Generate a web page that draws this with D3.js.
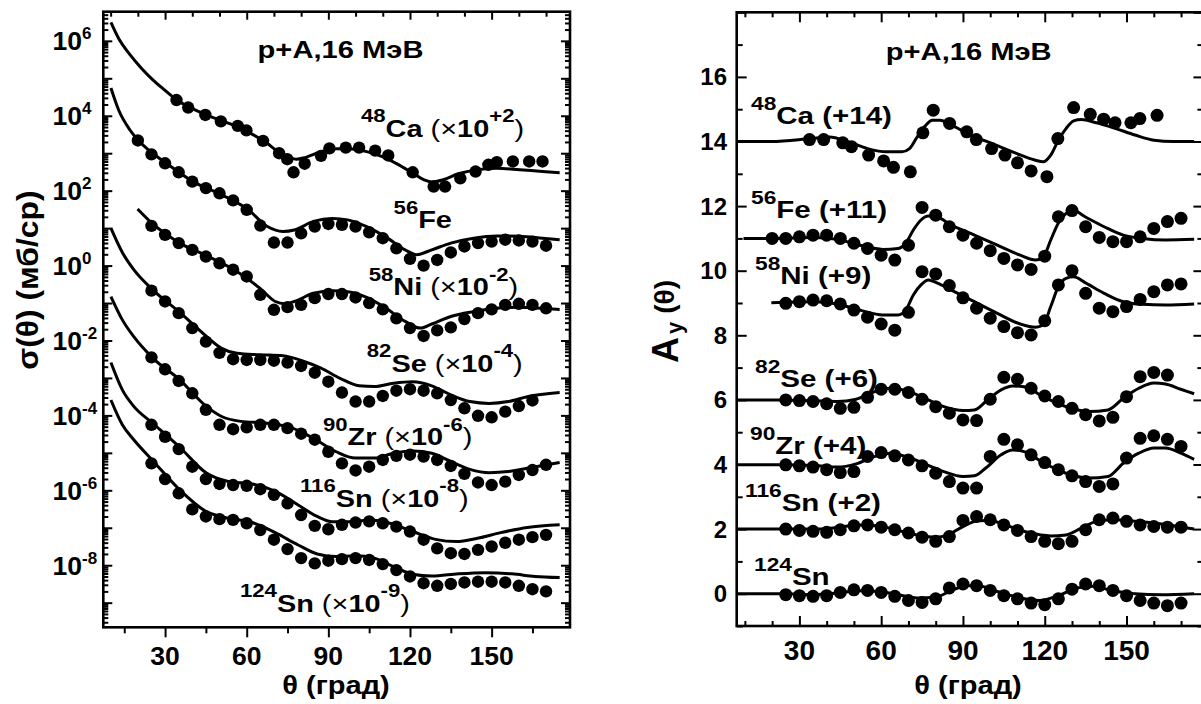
<!DOCTYPE html>
<html lang="ru">
<head>
<meta charset="utf-8">
<title>p+A, 16 МэВ</title>
<script src="https://cdn.jsdelivr.net/npm/d3@7/dist/d3.min.js"></script>
<style>
  html, body { margin: 0; padding: 0; background: #fff; }
  svg { display: block; }
  text { font-family: "Liberation Sans", Arial, Helvetica, sans-serif; font-weight: bold; fill: #000; white-space: pre; }
</style>
</head>
<body>
<svg id="chart" width="1201" height="704"></svg>
<script>
// ---------- shared angle grids, degrees ----------
const angles20to170 = [20,25,30,35,40,45,50,55,60,65,70,75,80,85,90,95,100,105,110,115,120,125,130,135,140,145,150,155,160,165,170];
const angles25to170 = [25,30,35,40,45,50,55,60,65,70,75,80,85,90,95,100,105,110,115,120,125,130,135,140,145,150,155,160,165,170];
const angles25to165 = [25,30,35,40,45,50,55,60,65,70,75,80,85,90,95,100,105,110,115,120,125,130,135,140,145,150,155,160,165];

// ---------- target nuclei ----------
const massNumbers = ["48", "56", "58", "82", "90", "116", "124"];
const elements = ["Ca", "Fe", "Ni", "Se", "Zr", "Sn", "Sn"];
const sigmaScalePowers = [2, 0, -2, -4, -6, -8, -9];   // σ curves multiplied by 10^p
const ayOffsets = [14, 11, 9, 6, 4, 2, 0];             // A_y curves shifted by +n

// ---------- axis ticks ----------
const angleTicks = [30, 60, 90, 120, 150];
const sigmaTickPowers = [6, 4, 2, 0, -2, -4, -6, -8];
const ayTicks = [0, 2, 4, 6, 8, 10, 12, 14, 16];

// ---------- differential cross sections σ(θ), mb/sr ----------
const ca48SigmaAngles = [34.2,38.5,44.8,50.5,56.7,59.9,66.0,71.9,74.9,77.2,81.3,87.3,90.4,96.4,101.3,107.2,112.0,121.0,128.7,132.9,138.5,144.1,148.8,151.9,157.8,163.8,168.7];
const ca48Sigma = [263,166,105,70.8,53.7,40.7,21.4,10.0,6.92,3.09,5.25,8.51,13.5,14.1,14.1,11.7,8.71,3.09,1.29,1.29,2.14,3.24,4.90,5.75,6.03,6.03,6.03];
const ca48SigmaCalcAngles = [10.1,12.9,17.1,21.3,25.5,29.8,34.0,45.2,56.4,66.2,73.3,78.2,81.7,87.3,92.9,98.5,104.1,109.8,115.4,121.0,125.2,128.0,132.2,137.8,144.8,151.9,160.3,168.7,175.0];
const ca48SigmaCalc = [30900,11700,4270,1860,912,490,275,105,51.3,21.4,9.12,6.92,7.76,11.0,13.2,12.9,11.0,8.13,5.13,2.95,1.95,1.70,1.95,2.82,3.63,3.98,3.63,3.24,3.02];

const fe56Sigma = [2190,933,537,309,174,117,85.1,55.0,30.9,11.7,4.12,4.12,7.24,11.0,12.9,12.3,11.0,7.76,5.37,2.88,1.51,1.00,1.41,2.24,3.24,3.98,4.37,4.90,4.68,4.37,3.39];
const fe56SigmaCalcAngles = [10.1,12.9,17.1,20.6,30.5,40.3,50.8,60.6,67.6,73.3,77.5,84.5,91.5,97.1,104.1,111.2,118.2,122.4,128.0,135.0,143.4,151.9,160.3,168.7,175.0];
const fe56SigmaCalc = [55000,14500,4170,2040,537,174,77.6,30.9,11.0,8.13,8.91,15.1,18.2,16.6,11.0,5.75,2.63,1.95,2.63,3.98,5.37,6.17,6.03,5.37,4.90];

const ni58Sigma = [1150,661,398,263,174,115,77.6,51.3,16.6,6.61,7.76,8.91,13.5,17.4,17.4,14.1,10.0,6.76,3.89,2.14,1.32,1.86,2.24,3.72,5.37,6.76,8.91,9.55,8.91,7.24];
const ni58SigmaCalcAngles = [19.9,25.5,35.4,45.9,56.4,64.8,70.5,74.0,77.5,84.5,91.5,97.1,104.1,111.2,118.2,123.8,128.0,135.0,143.4,151.9,160.3,168.7,175.0];
const ni58SigmaCalc = [3240,1290,398,174,69.2,25.1,11.0,9.55,11.0,18.2,21.4,20.0,14.1,7.24,3.24,2.14,2.75,4.37,5.89,7.24,7.76,7.24,6.76];

const se82Sigma = [2140,1100,537,214,93.3,46.8,31.6,30.2,30.2,28.8,25.7,20.9,13.8,7.94,4.07,2.34,2.34,3.31,4.57,5.01,4.57,3.89,2.57,1.55,0.977,0.891,1.26,1.78,2.51];
const se82SigmaCalcAngles = [10.1,14.3,18.5,25.5,35.4,45.2,50.8,56.4,64.8,73.3,80.3,87.3,94.3,101.3,106.9,114.0,121.0,128.0,135.0,142.0,149.1,156.1,163.1,175.0];
const se82SigmaCalc = [100000,22400,7760,2240,562,129,61.7,45.7,41.7,38.9,28.8,18.2,9.77,6.17,5.89,7.24,7.94,6.17,3.55,2.34,2.09,2.34,3.16,4.07];

const zr90Sigma = [3550,1700,832,389,141,56.2,42.7,47.9,56.2,56.2,45.7,32.4,22.4,10.7,5.25,3.39,4.27,6.46,8.32,8.91,7.94,6.46,4.47,2.75,1.62,1.38,1.70,2.57,3.47,4.79];
const zr90SigmaCalcAngles = [10.1,14.3,18.5,25.5,35.4,45.2,50.8,57.8,67.6,76.1,84.5,92.9,99.9,106.9,114.0,121.0,128.0,135.0,142.0,149.1,156.1,163.1,175.0];
const zr90SigmaCalc = [148000,35500,12600,3390,891,174,93.3,69.2,61.7,47.9,24.5,10.7,7.24,7.24,9.77,11.2,9.77,5.89,3.63,2.95,3.16,3.89,5.50];

const sn116Sigma = [5620,2690,1260,427,200,148,138,132,107,75.9,44.7,21.9,11.2,9.12,12.0,13.8,14.8,13.2,10.7,7.94,4.79,2.82,2.09,2.00,2.57,3.16,3.98,4.79,5.62,6.46];
const sn116SigmaCalcAngles = [10.1,14.3,18.5,25.5,35.4,45.2,53.6,62.0,70.5,78.9,85.9,91.5,98.5,105.5,112.6,121.0,129.4,137.1,144.8,153.3,163.1,175.0];
const sn116SigmaCalc = [257000,47900,17400,6170,1410,288,170,148,93.3,40.7,20.0,14.5,14.5,16.2,13.2,7.94,4.90,4.27,5.25,7.41,10.2,12.0];

const sn124Sigma = [5250,2000,832,309,200,170,162,132,87.1,47.9,26.9,15.5,11.2,13.2,14.5,15.5,13.8,10.7,7.41,5.01,3.31,2.82,3.16,3.47,3.63,3.63,3.47,2.82,2.29,2.00];
const sn124SigmaCalcAngles = [10.1,14.3,18.5,25.5,35.4,45.2,53.6,62.0,70.5,78.9,85.9,92.9,99.9,106.9,114.0,121.0,128.0,137.8,147.6,157.5,165.9,175.0];
const sn124SigmaCalc = [257000,56200,22400,6170,1020,269,178,138,74.1,34.7,20.0,17.0,17.8,15.5,9.12,5.75,5.13,5.89,6.31,5.89,5.01,4.68];

// ---------- analyzing powers A_y(θ) ----------
const ca48AyAngles = [33.7,38.9,45.9,49.1,55.4,60.9,64.5,70.7,75.3,79.1,85.1,91.4,94.9,100.5,105.4,110.0,115.0,120.8,124.8,130.6,136.7,141.6,145.8,151.6,154.9,161.2];
const ca48Ay = [0.06,0.06,-0.04,-0.16,-0.42,-0.60,-0.80,-0.94,0.27,0.97,0.56,0.30,0.06,-0.22,-0.42,-0.66,-0.91,-1.09,0.09,1.05,0.84,0.69,0.58,0.58,0.71,0.81];
const ca48AyCalcAngles = [7.4,19.9,34.0,41.0,48.0,55.0,62.0,67.6,70.4,73.2,76.0,78.8,81.6,85.8,92.8,101.2,109.6,116.6,119.4,122.2,125.0,127.8,130.6,133.4,139.0,146.1,153.1,160.1,167.1,174.8];
const ca48AyCalc = [0,0,0.09,0.14,-0.01,-0.22,-0.32,-0.32,-0.22,0.14,0.47,0.66,0.66,0.51,0.20,-0.08,-0.37,-0.58,-0.63,-0.42,0.04,0.40,0.64,0.68,0.58,0.40,0.20,0.04,0,0];

const fe56Ay = [0.0,0.0,0.05,0.10,0.10,0.0,-0.15,-0.31,-0.52,-0.67,-0.21,0.96,0.72,0.36,0.10,-0.15,-0.38,-0.62,-0.82,-0.96,-0.55,0.67,0.86,0.36,0.03,-0.10,-0.10,0.05,0.31,0.52,0.62];
const fe56AyCalcAngles = [9.5,20.0,35.4,43.8,52.2,60.6,66.2,69.0,71.8,74.6,77.4,80.2,85.8,94.2,102.6,111.0,116.6,119.4,122.2,125.0,127.8,130.6,134.8,141.8,148.8,155.8,164.3,174.8];
const fe56AyCalc = [0,0,0.03,-0.03,-0.21,-0.34,-0.31,-0.15,0.26,0.57,0.69,0.67,0.41,0.10,-0.21,-0.52,-0.67,-0.59,-0.05,0.48,0.77,0.86,0.67,0.36,0.10,0.0,-0.05,-0.03];

const ni58Ay = [-0.01,0.04,0.09,0.07,-0.03,-0.22,-0.44,-0.65,-0.84,-0.29,0.97,0.90,0.54,0.16,-0.16,-0.47,-0.73,-0.92,-0.99,-0.55,0.56,1.0,0.30,-0.16,-0.27,-0.11,0.11,0.35,0.56,0.59];
const ni58AyCalcAngles = [19.7,35.4,43.8,52.2,60.6,66.2,69.0,71.8,74.6,77.4,80.2,85.8,94.2,102.6,111.0,116.6,119.4,122.2,125.0,127.8,130.6,134.8,141.8,148.8,155.8,164.3,174.8];
const ni58AyCalc = [0.01,0.04,-0.03,-0.22,-0.37,-0.37,-0.22,0.25,0.56,0.71,0.63,0.40,0.04,-0.32,-0.65,-0.75,-0.68,-0.11,0.51,0.76,0.81,0.63,0.30,0.04,-0.04,-0.06,-0.03];

const se82Ay = [0.0,-0.02,-0.05,-0.12,-0.26,-0.23,0.08,0.33,0.33,0.23,0.02,-0.21,-0.41,-0.62,-0.64,0.02,0.70,0.64,0.36,0.12,-0.05,-0.26,-0.46,-0.65,-0.54,0.10,0.72,0.85,0.77];
const se82AyCalcAngles = [7.4,24.2,35.4,43.8,50.8,57.8,63.4,69.0,76.0,83.0,90.0,94.2,98.4,104.0,108.2,112.4,119.4,127.8,136.2,143.2,148.8,154.5,160.1,164.3,169.9,174.8];
const se82AyCalc = [0,0,-0.03,-0.05,0.02,0.26,0.36,0.29,0.05,-0.21,-0.33,-0.31,-0.05,0.31,0.43,0.41,0.10,-0.21,-0.36,-0.31,0.05,0.36,0.52,0.49,0.33,0.19];

const zr90Ay = [-0.01,-0.04,-0.08,-0.16,-0.25,-0.22,0.25,0.37,0.27,0.14,-0.04,-0.27,-0.53,-0.73,-0.73,0.25,0.78,0.61,0.30,0.06,-0.16,-0.35,-0.53,-0.68,-0.60,0.20,0.81,0.89,0.78,0.56];
const zr90AyCalcAngles = [7.4,24.2,35.4,43.8,50.8,57.8,63.4,69.0,76.0,83.0,90.0,94.2,98.4,104.0,108.2,112.4,119.4,127.8,136.2,143.2,148.8,154.5,160.1,164.3,169.9,174.8];
const zr90AyCalc = [-0.01,-0.01,-0.03,-0.08,0.02,0.25,0.35,0.25,0.02,-0.22,-0.37,-0.35,-0.11,0.30,0.45,0.40,0.06,-0.27,-0.42,-0.37,0.04,0.35,0.51,0.51,0.35,0.16];

const sn116Ay = [0.0,-0.04,-0.07,-0.10,-0.02,0.10,0.13,0.06,-0.02,-0.12,-0.25,-0.38,-0.23,0.27,0.39,0.29,0.13,-0.04,-0.23,-0.38,-0.45,-0.38,-0.02,0.29,0.34,0.24,0.13,0.08,0.06,0.06];
const sn116AyCalcAngles = [7.4,24.2,35.4,43.8,52.2,59.2,66.2,73.2,80.2,84.4,90.0,95.6,99.8,105.4,113.8,122.2,127.8,133.4,139.0,144.6,153.1,162.8,174.8];
const sn116AyCalc = [0,0,0,0.05,0.13,0.10,-0.04,-0.18,-0.25,-0.18,0.08,0.26,0.27,0.13,-0.10,-0.21,-0.18,0.03,0.24,0.29,0.24,0.16,0.0];

const sn124Ay = [-0.03,-0.06,-0.08,-0.06,0.04,0.12,0.10,0.04,-0.08,-0.21,-0.27,-0.16,0.18,0.30,0.25,0.10,-0.06,-0.16,-0.29,-0.34,-0.16,0.14,0.30,0.25,0.10,-0.06,-0.21,-0.29,-0.37,-0.29];
const sn124AyCalcAngles = [7.4,24.2,35.4,43.8,52.2,59.2,66.2,73.2,80.2,85.8,91.4,95.6,102.6,111.0,118.0,125.0,132.0,137.6,144.6,153.1,162.8,174.8];
const sn124AyCalc = [0,0,-0.03,0.02,0.09,0.07,-0.03,-0.13,-0.10,0.10,0.25,0.25,0.07,-0.13,-0.21,-0.06,0.18,0.23,0.10,0.0,-0.03,0.0];

// ---------- series tables (one row per nucleus, same order as massNumbers) ----------
const sigmaSeries = [
  {ang: ca48SigmaAngles, val: ca48Sigma, cAng: ca48SigmaCalcAngles, cVal: ca48SigmaCalc},
  {ang: angles20to170,   val: fe56Sigma, cAng: fe56SigmaCalcAngles, cVal: fe56SigmaCalc},
  {ang: angles25to170,   val: ni58Sigma, cAng: ni58SigmaCalcAngles, cVal: ni58SigmaCalc},
  {ang: angles25to165,   val: se82Sigma, cAng: se82SigmaCalcAngles, cVal: se82SigmaCalc},
  {ang: angles25to170,   val: zr90Sigma, cAng: zr90SigmaCalcAngles, cVal: zr90SigmaCalc},
  {ang: angles25to170,   val: sn116Sigma, cAng: sn116SigmaCalcAngles, cVal: sn116SigmaCalc},
  {ang: angles25to170,   val: sn124Sigma, cAng: sn124SigmaCalcAngles, cVal: sn124SigmaCalc}
];
const aySeries = [
  {ang: ca48AyAngles,  val: ca48Ay,  cAng: ca48AyCalcAngles,  cVal: ca48AyCalc},
  {ang: angles20to170, val: fe56Ay,  cAng: fe56AyCalcAngles,  cVal: fe56AyCalc},
  {ang: angles25to170, val: ni58Ay,  cAng: ni58AyCalcAngles,  cVal: ni58AyCalc},
  {ang: angles25to165, val: se82Ay,  cAng: se82AyCalcAngles,  cVal: se82AyCalc},
  {ang: angles25to170, val: zr90Ay,  cAng: zr90AyCalcAngles,  cVal: zr90AyCalc},
  {ang: angles25to170, val: sn116Ay, cAng: sn116AyCalcAngles, cVal: sn116AyCalc},
  {ang: angles25to170, val: sn124Ay, cAng: sn124AyCalcAngles, cVal: sn124AyCalc}
];

// ---------- drawing ----------
const svg = d3.select("#chart");

// Rich label: parts = [{t, sup, sub, light, dx}], drawn into a horizontally stretched group
function richText(parent, x, y, parts, o) {
  const g = parent.append("g").attr("transform", `translate(${x},${y}) scale(${o.sx || 1},1)`);
  const t = g.append("text").attr("x", 0).attr("y", 0).attr("text-anchor", o.anchor || "start");
  let cur = 0;
  parts.forEach(p => {
    const target = p.sup ? -o.rise : (p.sub ? o.drop : 0);
    t.append("tspan")
      .attr("dy", target - cur)
      .attr("dx", p.dx || 0)
      .attr("font-size", p.sup || p.sub ? o.small : o.size)
      .attr("font-weight", p.light ? "normal" : "bold")
      .text(p.t);
    cur = target;
  });
  return t;
}

function styleTicks(g) {
  g.select(".domain").remove();
  g.selectAll(".tick line").attr("stroke", "#000").attr("stroke-width", 2);
  g.selectAll(".tick text").remove();
}

function frame(box) {
  svg.append("rect")
    .attr("x", box.x0).attr("y", box.y0)
    .attr("width", box.x1 - box.x0).attr("height", box.y1 - box.y0)
    .attr("fill", "none").attr("stroke", "#000").attr("stroke-width", 2.6);
}

// ===== Left panel: σ(θ) on a log scale =====
const L = {x0: 103.3, x1: 570, y0: 11.7, y1: 627.3};
const xL = d3.scaleLinear().domain([7.3, 178.8]).range([L.x0, L.x1]);
const yL = d3.scaleLog().domain([2.2e-10, 6.0e6]).range([L.y1, L.y0]);

const decadeTicks = d3.range(-9, 7).map(k => Math.pow(10, k));
const minorLogTicks = [];
d3.range(-10, 7).forEach(k => d3.range(2, 10).forEach(m => {
  const v = m * Math.pow(10, k);
  if (v > yL.domain()[0] && v < yL.domain()[1]) minorLogTicks.push(v);
}));
const tenDegTicks = d3.range(10, 180, 10);
const halfStepTicks = [15, 45, 75, 105, 135, 165];

// left / right log ticks, pointing inward
[[L.x0, d3.axisRight], [L.x1, d3.axisLeft]].forEach(([x, ax]) => {
  svg.append("g").attr("transform", `translate(${x},0)`)
    .call(ax(yL).tickValues(decadeTicks).tickSize(9)).call(styleTicks);
  svg.append("g").attr("transform", `translate(${x},0)`)
    .call(ax(yL).tickValues(minorLogTicks).tickSize(5)).call(styleTicks);
});
// bottom ticks outward
svg.append("g").attr("transform", `translate(0,${L.y1})`)
  .call(d3.axisBottom(xL).tickValues(angleTicks).tickSize(10)).call(styleTicks);
svg.append("g").attr("transform", `translate(0,${L.y1})`)
  .call(d3.axisBottom(xL).tickValues(halfStepTicks).tickSize(6)).call(styleTicks);
// top ticks inward
svg.append("g").attr("transform", `translate(0,${L.y0})`)
  .call(d3.axisBottom(xL).tickValues(tenDegTicks.filter(v => v % 30 !== 0)).tickSize(5)).call(styleTicks);
svg.append("g").attr("transform", `translate(0,${L.y0})`)
  .call(d3.axisBottom(xL).tickValues(angleTicks).tickSize(8)).call(styleTicks);

frame(L);

// tick labels
angleTicks.forEach(v => {
  svg.append("text").attr("x", xL(v)).attr("y", L.y1 + 37.5)
    .attr("text-anchor", "middle").attr("font-size", 26.5).text(v);
});
sigmaTickPowers.forEach(p => {
  richText(svg, 52.5, yL(Math.pow(10, p)) + 9.5,
    [{t: "10"}, {t: String(p), sup: true}],
    {size: 26.5, small: 17, rise: 11});
});

// curves and points
const lineL = d3.line().x(d => xL(d[0])).y(d => yL(d[1])).curve(d3.curveMonotoneX);
sigmaSeries.forEach((s, i) => {
  const f = Math.pow(10, sigmaScalePowers[i]);
  const calc = s.cAng.map((a, j) => [a, s.cVal[j] * f]);
  svg.append("path").attr("d", lineL(calc))
    .attr("fill", "none").attr("stroke", "#000").attr("stroke-width", 3)
    .attr("stroke-linejoin", "round");
  svg.append("g").selectAll("circle")
    .data(s.ang.map((a, j) => [a, s.val[j] * f]))
    .join("circle")
    .attr("cx", d => xL(d[0])).attr("cy", d => yL(d[1])).attr("r", 6.2)
    .attr("fill", "#000");
});

// series labels
const sigmaLabelPos = [[361, 136.7], [393.6, 228], [368.7, 295], [366.8, 371.7], [322.9, 445], [300, 506.7], [240, 611.7]];
sigmaLabelPos.forEach(([x, y], i) => {
  const p = sigmaScalePowers[i];
  const parts = [{t: massNumbers[i], sup: true}, {t: elements[i]}];
  if (p !== 0) {
    parts.push({t: " (", light: true}, {t: "×", light: true}, {t: "10"},
               {t: (p > 0 ? "+" : "") + p, sup: true}, {t: ")", light: true});
  }
  richText(svg, x, y, parts, {size: 23.5, small: 18, rise: 14.5, sx: 1.23});
});

// panel title and axis titles
richText(svg, 340.5, 58.3, [{t: "p+A,16 МэВ"}], {size: 23.5, sx: 1.24, anchor: "middle"});
richText(svg, 336, 694, [{t: "θ (град)"}], {size: 25.5, sx: 1.14, anchor: "middle"});
svg.append("g").attr("transform", "translate(37.5,280) rotate(-90) scale(1.1,1)")
  .append("text").attr("text-anchor", "middle").attr("font-size", 29).text("σ(θ) (мб/ср)");

// ===== Right panel: A_y(θ) =====
const R = {x0: 736.7, x1: 1203.4, y0: 12.3, y1: 626};
const xR = d3.scaleLinear().domain([7.0, 178.2]).range([R.x0, R.x1]);
const yR = d3.scaleLinear().domain([-1, 18]).range([R.y1, R.y0]);

const unitTicks = d3.range(-1, 19);
[[R.x0, d3.axisRight], [R.x1, d3.axisLeft]].forEach(([x, ax]) => {
  svg.append("g").attr("transform", `translate(${x},0)`)
    .call(ax(yR).tickValues(unitTicks.filter(v => v % 2 !== 0)).tickSize(6)).call(styleTicks);
  svg.append("g").attr("transform", `translate(${x},0)`)
    .call(ax(yR).tickValues(unitTicks.filter(v => v % 2 === 0)).tickSize(10)).call(styleTicks);
});
[[R.y1, d3.axisTop], [R.y0, d3.axisBottom]].forEach(([y, ax]) => {
  svg.append("g").attr("transform", `translate(0,${y})`)
    .call(ax(xR).tickValues(tenDegTicks.filter(v => v % 30 !== 0)).tickSize(5)).call(styleTicks);
  svg.append("g").attr("transform", `translate(0,${y})`)
    .call(ax(xR).tickValues(angleTicks).tickSize(10)).call(styleTicks);
});
frame(R);

angleTicks.forEach(v => {
  svg.append("text").attr("x", xR(v)).attr("y", R.y1 + 33.5)
    .attr("text-anchor", "middle").attr("font-size", 28).text(v);
});
ayTicks.forEach(v => {
  svg.append("text").attr("x", 727).attr("y", yR(v) + 8.5)
    .attr("text-anchor", "end").attr("font-size", 24).text(v);
});

const lineR = d3.line().x(d => xR(d[0])).y(d => yR(d[1])).curve(d3.curveMonotoneX);
aySeries.forEach((s, i) => {
  const off = ayOffsets[i];
  const calc = s.cAng.map((a, j) => [a, s.cVal[j] + off]);
  svg.append("path").attr("d", lineR(calc))
    .attr("fill", "none").attr("stroke", "#000").attr("stroke-width", 3)
    .attr("stroke-linejoin", "round");
  svg.append("g").selectAll("circle")
    .data(s.ang.map((a, j) => [a, s.val[j] + off]))
    .join("circle")
    .attr("cx", d => xR(d[0])).attr("cy", d => yR(d[1])).attr("r", 6.5)
    .attr("fill", "#000");
});

const ayLabelPos = [[751, 123.5], [751, 218], [755, 284], [755, 386.7], [750, 454], [745, 510.5], [754, 585]];
ayLabelPos.forEach(([x, y], i) => {
  const off = ayOffsets[i];
  const parts = [{t: massNumbers[i], sup: true}, {t: elements[i] + (off ? ` (+${off})` : "")}];
  richText(svg, x, y, parts, {size: 24, small: 18.5, rise: 14, sx: 1.23});
});

richText(svg, 968.7, 60, [{t: "p+A,16 МэВ"}], {size: 23.5, sx: 1.24, anchor: "middle"});
richText(svg, 968, 694, [{t: "θ (град)"}], {size: 25.5, sx: 1.14, anchor: "middle"});
// A_y(θ): large A, small subscript y, then (θ)
const ayTitle = svg.append("g").attr("transform", "translate(678,363) rotate(-90)")
  .append("text").attr("x", 0).attr("y", 0);
ayTitle.append("tspan").attr("font-size", 36).text("A");
ayTitle.append("tspan").attr("font-size", 22).attr("dx", 3).attr("dy", 4).text("y");
ayTitle.append("tspan").attr("font-size", 28).attr("dx", 8).attr("dy", -8).text("(θ)");
</script>
</body>
</html>
